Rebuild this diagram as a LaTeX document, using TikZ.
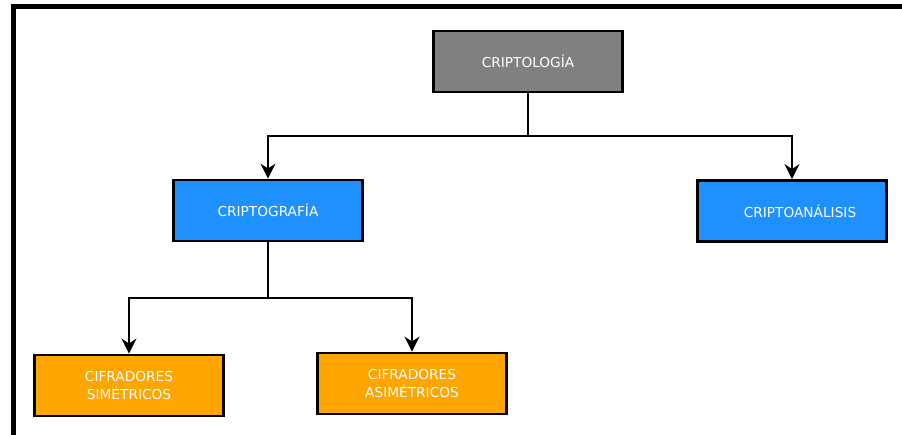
\documentclass[tikz,border=0pt]{standalone}
\usepackage{fontspec}
\setmainfont{DejaVu Sans}
\usetikzlibrary{arrows.meta}
\definecolor{boxgray}{HTML}{808080}
\definecolor{boxblue}{HTML}{1E90FF}
\definecolor{boxorange}{HTML}{FFA500}
\begin{document}
\begin{tikzpicture}[x=1pt,y=-1pt,
  box/.style={draw=black,line width=2.8pt,minimum width=189pt,minimum height=61pt,
    text=white,font=\fontsize{13.7}{17.5}\selectfont,align=center,inner sep=0pt},
  graybox/.style={box,fill=boxgray},
  bluebox/.style={box,fill=boxblue},
  orangebox/.style={box,fill=boxorange},
  link/.style={line width=2.4pt,-{Stealth[length=15pt,width=15pt,inset=5pt]}},
  stemline/.style={line width=2.4pt}]
\useasboundingbox (0,0) rectangle (902,435);
% outer frame, open to the right and bottom
\draw[line width=4.5pt] (13.3,440) -- (13.3,6.7) -- (910,6.7);

% nodes
\node[graybox]   (crl) at (528,61.5)  {CRIPTOLOGÍA};
\node[bluebox]   (crg) at (268,210.5) {CRIPTOGRAFÍA};
\node[bluebox]   (cra) at (792,211)   {\hspace*{16pt}CRIPTOANÁLISIS};
\node[orangebox] (sim) at (129,385.5) {CIFRADORES\\SIMÉTRICOS};
\node[orangebox] (asi) at (412,383.5) {CIFRADORES\\ASIMÉTRICOS};

% branch points
\coordinate (j1) at (528,136);
\coordinate (j2) at (268,298);

% connectors
\draw[stemline] (crl.south) -- (j1);
\draw[link] (j1) -| (crg.north);
\draw[link] (j1) -| (cra.north);
\draw[stemline] (crg.south) -- (j2);
\draw[link] (j2) -| (sim.north);
\draw[link] (j2) -| (asi.north);
\end{tikzpicture}
\end{document}
